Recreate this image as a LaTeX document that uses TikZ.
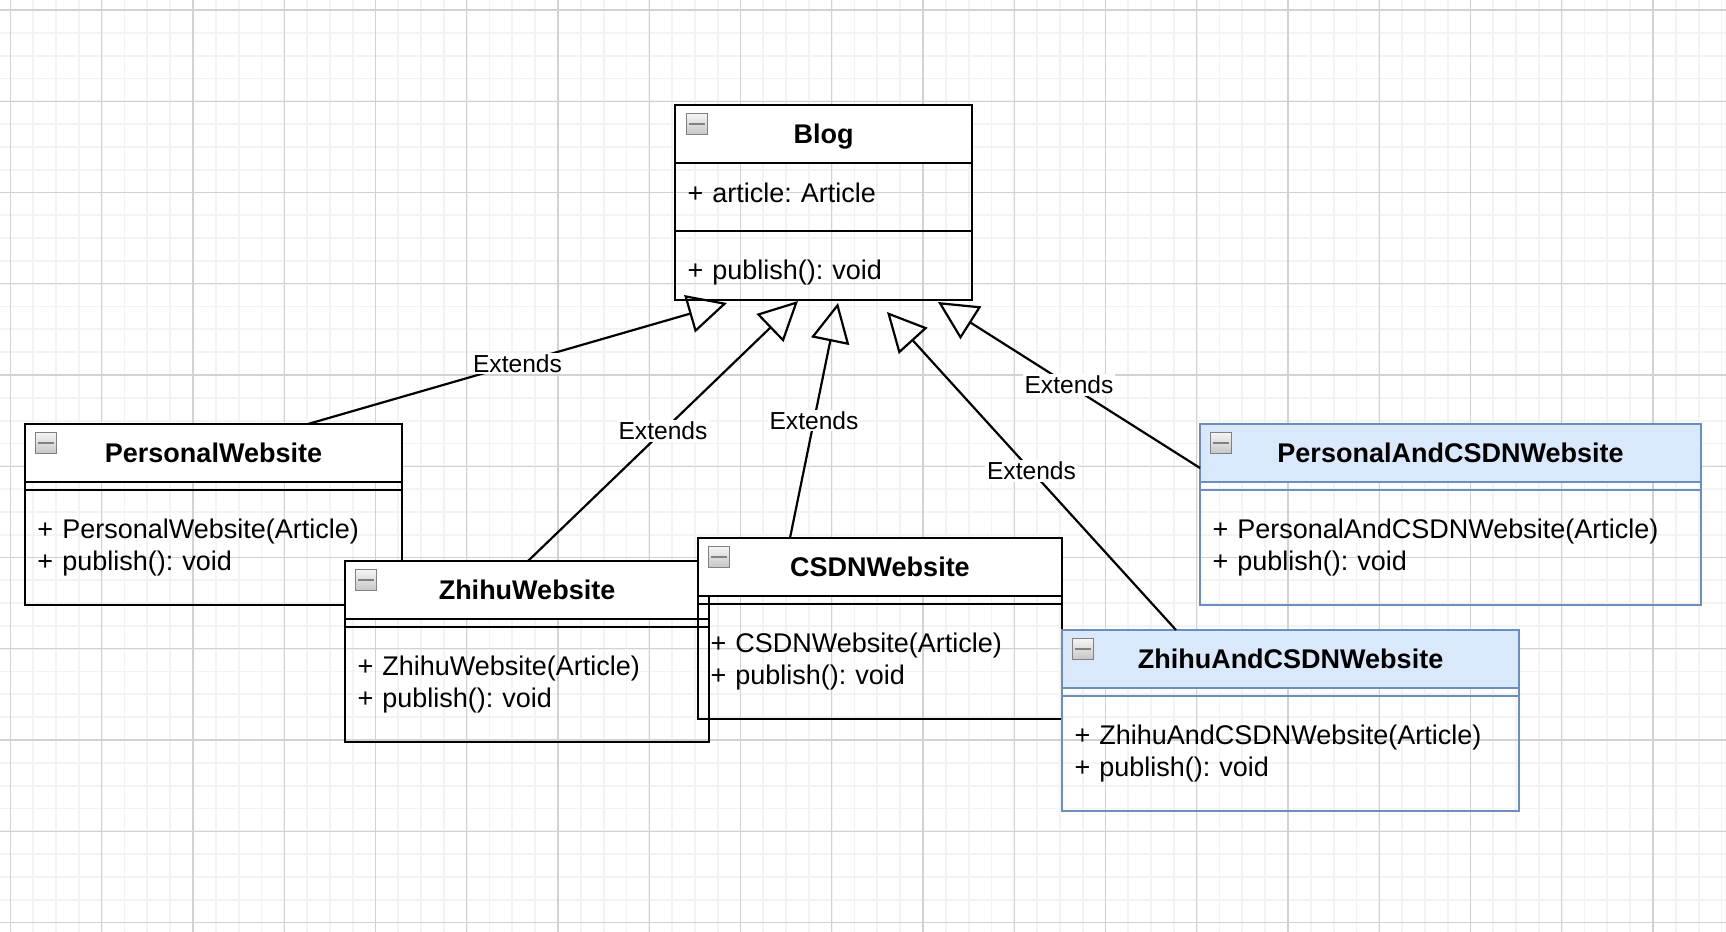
\documentclass[tikz,border=0pt]{standalone}
\usepackage{fontspec}
\setmainfont{Liberation Sans}
\usepackage{tikz}
\usetikzlibrary{arrows.meta}
\definecolor{gridmajor}{RGB}{210,210,210}
\definecolor{gridminor}{RGB}{243,243,243}
\definecolor{headblue}{RGB}{218,232,252}
\definecolor{lineblue}{RGB}{108,142,191}

\begin{document}
\frenchspacing
\begin{tikzpicture}[x=0.5pt,y=-0.5pt,
  classhead/.style={rectangle,draw,fill=white,line width=1.1pt,outer sep=0pt,
    anchor=north west,inner sep=0pt,minimum height=29pt,
    text height=9.7pt,text depth=0pt,
    font=\fontsize{13.5pt}{16pt}\selectfont\bfseries},
  classpart/.style={rectangle,draw,line width=1.1pt,outer sep=0pt,
    anchor=north west,inner xsep=6.25pt,inner ysep=0pt,align=left,
    font=\fontsize{13.5pt}{16pt}\selectfont},
  bluebox/.style={draw=lineblue},
  minusicon/.style={rectangle,draw=gray,line width=0.6pt,top color=gray!8,
    bottom color=gray!45,minimum size=10.5pt,inner sep=0pt,anchor=north west,
    path picture={\draw[line width=1.1pt]
      ([xshift=-4pt]path picture bounding box.center) --
      ([xshift=4pt]path picture bounding box.center);}},
  extends/.style={line width=1.1pt,-{Triangle[open,length=19.5pt,width=19.3pt]}},
  extlabel/.style={fill=white,inner sep=0.8pt,
    font=\fontsize{12.3pt}{14pt}\selectfont}]

  % Grid
  \useasboundingbox (0,0) rectangle (1726,932);
  \fill[white] (0,0) rectangle (1726,932);
  \foreach \k in {0,...,75}
    \draw[gridminor,line width=0.9pt] ({10.5+22.8125*\k},0) -- ({10.5+22.8125*\k},932);
  \foreach \k in {0,...,40}
    \draw[gridminor,line width=0.9pt] (0,{10+22.8125*\k}) -- (1726,{10+22.8125*\k});
  \foreach \k in {0,...,18}
    \draw[gridmajor,line width=0.6pt] ({10.5+91.25*\k},0) -- ({10.5+91.25*\k},932);
  \foreach \k in {0,...,10}
    \draw[gridmajor,line width=0.6pt] (0,{10+91.25*\k}) -- (1726,{10+91.25*\k});

  % PersonalWebsite
  \node[classhead,minimum width=188.5pt] (personal) at (25,424) {PersonalWebsite};
  \node[classpart,text width=176pt,minimum height=4pt] (personal attr) at (personal.south west) {};
  \node[classpart,text width=176pt,minimum height=57.5pt] (personal ops) at (personal attr.south west)
    {+ PersonalWebsite(Article)\\+ publish(): void};
  \node[minusicon] (personal icon) at ([shift={(10,8)}]personal.north west) {};

  % ZhihuWebsite
  \node[classhead,minimum width=182pt] (zhihu) at (345,561) {ZhihuWebsite};
  \node[classpart,text width=169.5pt,minimum height=4pt] (zhihu attr) at (zhihu.south west) {};
  \node[classpart,text width=169.5pt,minimum height=57.5pt] (zhihu ops) at (zhihu attr.south west)
    {+ ZhihuWebsite(Article)\\+ publish(): void};
  \node[minusicon] (zhihu icon) at ([shift={(10,8)}]zhihu.north west) {};

  % CSDNWebsite
  \node[classhead,minimum width=182pt] (csdn) at (698,538) {CSDNWebsite};
  \node[classpart,text width=169.5pt,minimum height=4pt] (csdn attr) at (csdn.south west) {};
  \node[classpart,text width=169.5pt,minimum height=57.5pt] (csdn ops) at (csdn attr.south west)
    {+ CSDNWebsite(Article)\\+ publish(): void};
  \node[minusicon] (csdn icon) at ([shift={(10,8)}]csdn.north west) {};

  % PersonalAndCSDNWebsite
  \node[classhead,bluebox,fill=headblue,minimum width=250.5pt] (pcsdn) at (1200,424) {PersonalAndCSDNWebsite};
  \node[classpart,bluebox,text width=238pt,minimum height=4pt] (pcsdn attr) at (pcsdn.south west) {};
  \node[classpart,bluebox,text width=238pt,minimum height=57.5pt] (pcsdn ops) at (pcsdn attr.south west)
    {+ PersonalAndCSDNWebsite(Article)\\+ publish(): void};
  \node[minusicon] (pcsdn icon) at ([shift={(10,8)}]pcsdn.north west) {};

  % ZhihuAndCSDNWebsite
  \node[classhead,bluebox,fill=headblue,minimum width=228.5pt] (zcsdn) at (1062,630) {ZhihuAndCSDNWebsite};
  \node[classpart,bluebox,text width=216pt,minimum height=4pt] (zcsdn attr) at (zcsdn.south west) {};
  \node[classpart,bluebox,text width=216pt,minimum height=57.5pt] (zcsdn ops) at (zcsdn attr.south west)
    {+ ZhihuAndCSDNWebsite(Article)\\+ publish(): void};
  \node[minusicon] (zcsdn icon) at ([shift={(10,8)}]zcsdn.north west) {};

  % Blog
  \node[classhead,minimum width=148.5pt] (blog) at (675,105) {Blog};
  \node[classpart,text width=136pt,minimum height=34pt,text depth=4pt] (blog attr) at (blog.south west)
    {+ article: Article};
  \node[classpart,text width=136pt,minimum height=34.5pt,text height=16.5pt] (blog ops) at (blog attr.south west)
    {+ publish(): void};
  \node[minusicon] (blog icon) at ([shift={(11,8)}]blog.north west) {};

  % Extends
  \coordinate (tip1) at ([shift={(-96.5,3)}]blog ops.south);
  \coordinate (tip2) at ([shift={(-25.5,1)}]blog ops.south);
  \coordinate (tip3) at ([shift={(14.5,3)}]blog ops.south);
  \coordinate (tip4) at ([shift={(63.5,12)}]blog ops.south);
  \coordinate (tip5) at ([shift={(114.5,2)}]blog ops.south);
  \draw[extends] ([shift={(94.5,0)}]personal.north) -- node[extlabel] (ext1) {Extends} (tip1);
  \draw[extends] ([shift={(1,0)}]zhihu.north) -- node[extlabel] (ext2) {Extends} (tip2);
  \draw[extends] ([shift={(-90,0)}]csdn.north) -- node[extlabel] (ext3) {Extends} (tip3);
  \draw[extends] ([shift={(-114.5,0)}]zcsdn.north) -- node[extlabel] (ext4) {Extends} (tip4);
  \draw[extends] ([shift={(0,15)}]pcsdn.west) -- node[extlabel] (ext5) {Extends} (tip5);
\end{tikzpicture}
\end{document}
